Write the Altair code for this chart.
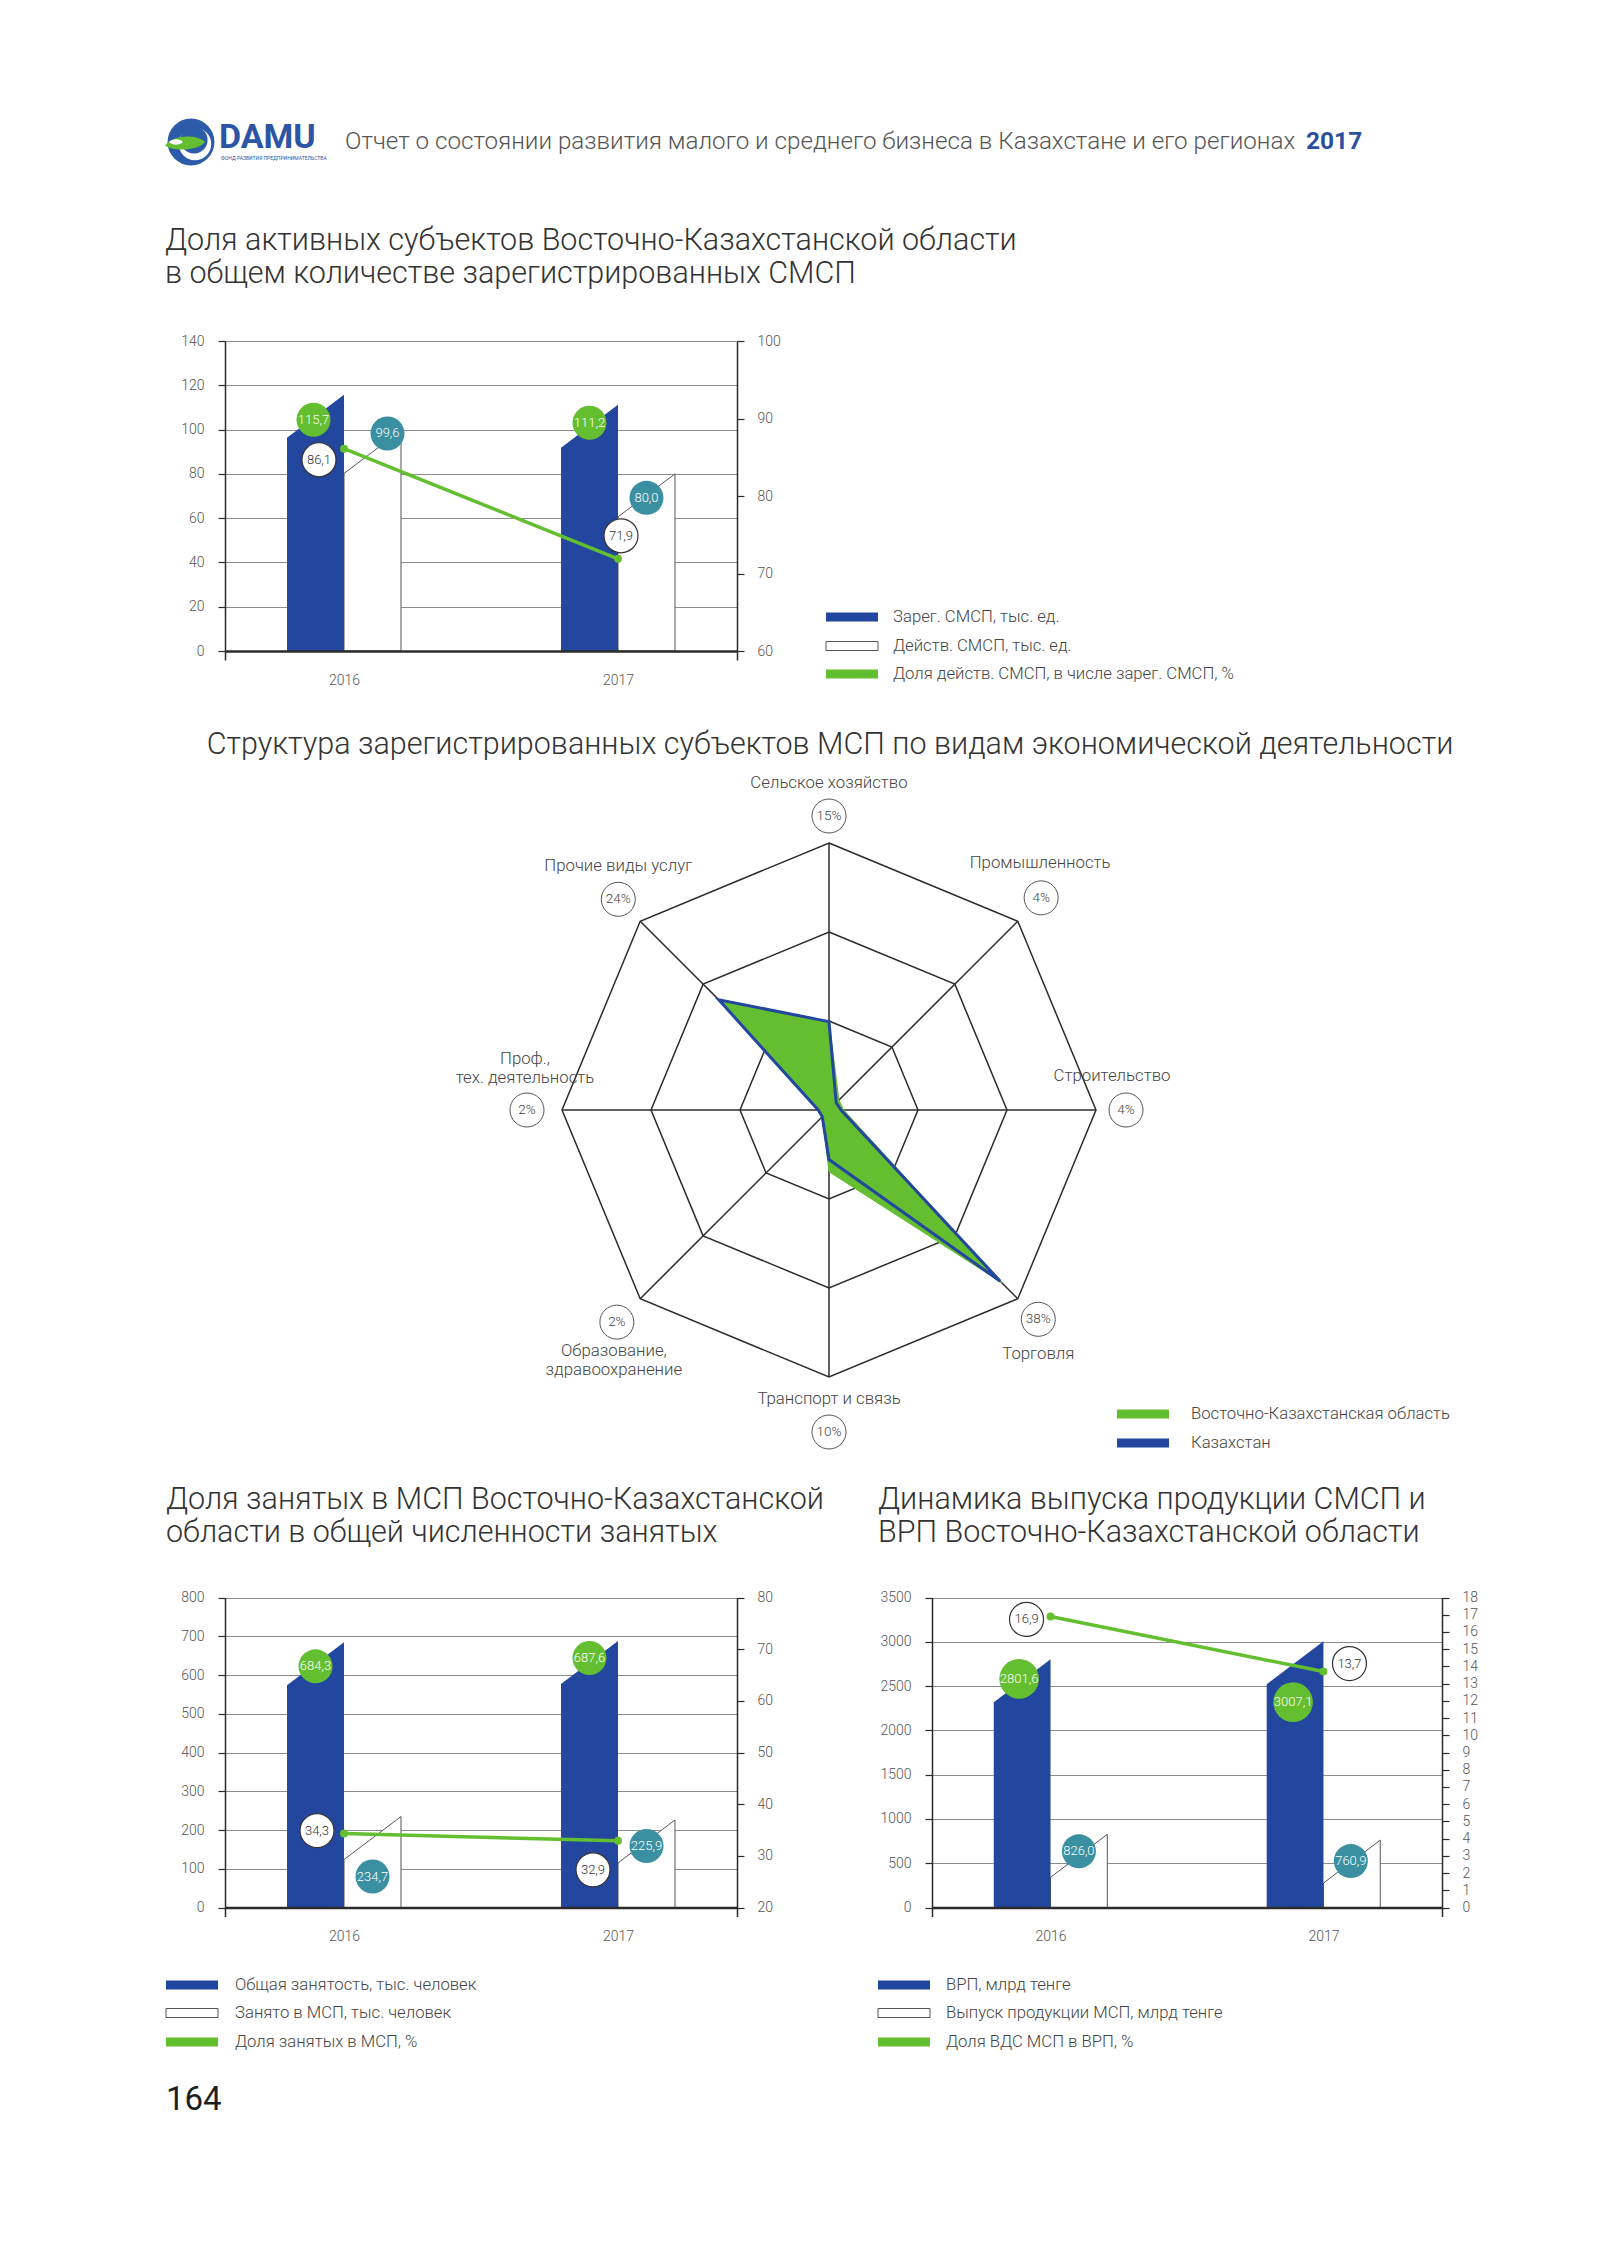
import math
import altair as alt
import pandas as pd

# ---------------- data ----------------
YEARS = ["2016", "2017"]

# Chart 1: active SME share
C1_REG = [115.7, 111.2]      # Зарег. СМСП, тыс. ед.
C1_ACT = [99.6, 80.0]        # Действ. СМСП, тыс. ед.
C1_SHARE = [86.1, 71.9]      # Доля действ. СМСП, %
C1_LEGEND = ["Зарег. СМСП, тыс. ед.", "Действ. СМСП, тыс. ед.",
             "Доля действ. СМСП, в числе зарег. СМСП, %"]

# Chart 3: employment
C3_TOTAL = [684.3, 687.6]
C3_SME = [234.7, 225.9]
C3_SHARE = [34.3, 32.9]
C3_LEGEND = ["Общая занятость, тыс. человек", "Занято в МСП, тыс. человек",
             "Доля занятых в МСП, %"]

# Chart 4: output / GRP
C4_GRP = [2801.6, 3007.1]
C4_SME = [826.0, 760.9]
C4_SHARE = [16.9, 13.7]
C4_LEGEND = ["ВРП, млрд тенге", "Выпуск продукции МСП, млрд тенге",
             "Доля ВДС МСП в ВРП, %"]

# Radar
SECTORS = [["Сельское хозяйство"], ["Промышленность"], ["Строительство"], ["Торговля"],
           ["Транспорт и связь"], ["Образование,", "здравоохранение"],
           ["Проф.,", "тех. деятельность"], ["Прочие виды услуг"]]
SECTOR_PCT = ["15%", "4%", "4%", "38%", "10%", "2%", "2%", "24%"]
RADAR_VKO = [13.9, 2.2, 2.3, 38.4, 9.7, 1.5, 1.8, 24.5]
RADAR_KZ = [13.9, 1.6, 1.9, 38.1, 7.8, 1.5, 1.7, 24.5]
RADAR_LEGEND = ["Восточно-Казахстанская область", "Казахстан"]

HEADER = "Отчет о состоянии развития малого и среднего бизнеса в Казахстане и его регионах"
HEADER_YEAR = "2017"
TITLE1 = ["Доля активных субъектов Восточно-Казахстанской области",
          "в общем количестве зарегистрированных СМСП"]
TITLE2 = "Структура зарегистрированных субъектов МСП по видам экономической деятельности"
TITLE3 = ["Доля занятых в МСП Восточно-Казахстанской", "области в общей численности занятых"]
TITLE4 = ["Динамика выпуска продукции СМСП и", "ВРП Восточно-Казахстанской области"]
PAGE_NO = "164"

# ---------------- style ----------------
PW, PH = 1599, 2229
FONT = "Roboto"
BLUE = "#23479F"
GREEN = "#63BE30"
TEAL = "#3A8FA1"
DARK = "#2B2B2B"
GRID = "#8C8C8C"
AXTXT = "#555555"
TXT = "#3C3C3C"
TITLE_SIZE = 30.5
LEG_SIZE = 16.7

ONE = pd.DataFrame({"k": [0]})
layers = []


def fmt(v):
    return f"{v:.1f}".replace(".", ",")


def text_layer(x, y, s, size, color=TXT, weight=300, align="left", baseline="middle",
               line_height=None):
    kw = dict(text=s, fontSize=size, color=color, fontWeight=weight, align=align,
              baseline=baseline, font=FONT)
    if line_height:
        kw["lineHeight"] = line_height
    return alt.Chart(ONE).mark_text(**kw).encode(x=alt.value(x), y=alt.value(y))


def rect_layer(x0, x1, y0, y1, fill, stroke=None):
    kw = dict(fill=fill)
    if stroke:
        kw.update(stroke=stroke, strokeWidth=1)
    return alt.Chart(ONE).mark_rect(**kw).encode(
        x=alt.value(x0), x2=alt.value(x1), y=alt.value(y0), y2=alt.value(y1))


def symbol_layer(x, y, size, fill, shape="circle"):
    return alt.Chart(ONE).mark_point(fill=fill, size=size, shape=shape, filled=True,
                                     opacity=1, strokeWidth=0).encode(
        x=alt.value(x), y=alt.value(y))


def legend(x_sw, x_txt, ys, labels, kinds):
    out = []
    for y, lab, kind in zip(ys, labels, kinds):
        if kind == "white":
            out.append(rect_layer(x_sw, x_sw + 52, y - 4.5, y + 4.5, "white", "#555555"))
        else:
            out.append(rect_layer(x_sw, x_sw + 52, y - 4.5, y + 4.5, kind))
        out.append(text_layer(x_txt, y, lab, LEG_SIZE, color="#444444"))
    return out


# ---------------- bar/line panels ----------------
D = 0.4343          # outer padding of the year axis (in category units)
BW = 0.208          # bar width (in category units)
SLANT_PX = 43


def panel(px0, px1, py0, py1, lmax, lstep, rmin, rmax, rstep, big, small, share, offs):
    xs = alt.Scale(domain=[-D, 1 + D], range=[px0, px1], nice=False, zero=False)
    yl = alt.Scale(domain=[0, lmax], range=[py1, py0], nice=False, zero=False)
    yr = alt.Scale(domain=[rmin, rmax], range=[py1, py0], nice=False, zero=False)
    ux = (1 + 2 * D) / (px1 - px0)
    ul = lmax / (py1 - py0)
    ur = (rmax - rmin) / (py1 - py0)
    sl = SLANT_PX * ul
    lab = dict(labelFont=FONT, labelFontSize=14, labelFontWeight=300, labelColor=AXTXT,
               title=None, labelOverlap=False)

    ax_left = alt.Axis(orient="left", offset=-px0, values=list(range(0, lmax + 1, lstep)),
                       format="d", grid=True, gridColor=GRID, gridWidth=1, domainColor=DARK,
                       domainWidth=1.5, tickColor=DARK, tickWidth=1.2, tickSize=7,
                       labelPadding=14, **lab)
    ax_bottom = alt.Axis(orient="bottom", offset=py1 - PH, values=[0, 1],
                         labelExpr=f"datum.value < 0.5 ? '{YEARS[0]}' : '{YEARS[1]}'",
                         ticks=False, domainColor=DARK, domainWidth=2.5, labelPadding=22,
                         grid=False, zindex=1, labelFlush=False, **lab)
    ax_ends = alt.Axis(orient="bottom", offset=py1 - PH, values=[-D, 1 + D], labels=False,
                       domain=False, ticks=True, tickSize=9, tickColor=DARK, tickWidth=1.5,
                       grid=False, title=None)
    ax_right = alt.Axis(orient="right", offset=px1 - PW, values=list(range(rmin, rmax + 1, rstep)),
                        format="d", grid=False, domainColor=DARK, domainWidth=1.5,
                        tickColor=DARK, tickWidth=1.2, tickSize=7, labelPadding=13, **lab)

    blue_rows, white_rows = [], []
    for i in range(2):
        blue_rows += [dict(bar=i, x=i - BW, top=big[i] - sl, base=0),
                      dict(bar=i, x=i, top=big[i], base=0)]
        white_rows += [dict(bar=i, x=i, top=small[i] - sl, base=0),
                       dict(bar=i, x=i + BW, top=small[i], base=0)]

    out = []
    out.append(alt.Chart(pd.DataFrame(white_rows)).mark_area(
        fill="white", stroke="#555555", strokeWidth=1, interpolate="linear").encode(
        x=alt.X("x:Q", scale=xs, axis=ax_bottom),
        y=alt.Y("top:Q", scale=yl, axis=ax_left),
        y2="base:Q", detail="bar:N"))
    out.append(alt.Chart(pd.DataFrame(blue_rows)).mark_area(
        fill=BLUE, interpolate="linear").encode(
        x=alt.X("x:Q", scale=xs, axis=ax_ends),
        y=alt.Y("top:Q", scale=yl, axis=None),
        y2="base:Q", detail="bar:N"))

    line_df = pd.DataFrame({"x": [0, 1], "v": share})
    out.append(alt.Chart(line_df).mark_line(color=GREEN, strokeWidth=3.5).encode(
        x=alt.X("x:Q", scale=xs, axis=None),
        y=alt.Y("v:Q", scale=yr, axis=ax_right)))
    out.append(alt.Chart(line_df).mark_circle(color=GREEN, size=64, opacity=1).encode(
        x=alt.X("x:Q", scale=xs, axis=None),
        y=alt.Y("v:Q", scale=yr, axis=None)))

    def labels(vals, anchor_dx, offsets, fill, txtcol, stroke, yscale, u):
        rows = []
        for i, v in enumerate(vals):
            t = fmt(v)
            d = max(34.0, 6.6 * len(t))
            rows.append(dict(x=i + anchor_dx + offsets[i][0] * ux,
                             y=v - offsets[i][1] * u, t=t, s=d * d))
        df = pd.DataFrame(rows)
        ck = dict(fill=fill, opacity=1, filled=True)
        if stroke:
            ck.update(stroke=stroke, strokeWidth=1.2)
        else:
            ck.update(strokeWidth=0)
        c = alt.Chart(df).mark_circle(**ck).encode(
            x=alt.X("x:Q", scale=xs, axis=None), y=alt.Y("y:Q", scale=yscale, axis=None),
            size=alt.Size("s:Q", scale=None, legend=None))
        t = alt.Chart(df).mark_text(font=FONT, fontSize=13, fontWeight=300, color=txtcol,
                                    align="center", baseline="middle").encode(
            x=alt.X("x:Q", scale=xs, axis=None), y=alt.Y("y:Q", scale=yscale, axis=None),
            text="t:N")
        return [c, t]

    out += labels(big, -BW / 2, offs[0], GREEN, "white", None, yl, ul)
    out += labels(small, BW / 2, offs[1], TEAL, "white", None, yl, ul)
    out += labels(share, 0, offs[2], "white", "#333333", "#333333", yr, ur)
    return out


# chart coordinates = page coordinates - 8
layers += panel(217, 729, 333, 643, 140, 20, 60, 100, 10, C1_REG, C1_ACT, C1_SHARE,
                [[(-2, 25), (0, 18)], [(15, 3), (0, 24)], [(-25, 11), (3, -23)]])
layers += panel(217, 729, 1589.5, 1899.5, 800, 100, 20, 80, 10, C3_TOTAL, C3_SME, C3_SHARE,
                [[(0, 24), (0, 17)], [(0, 60), (0, 26)], [(-27, -3), (-25, 29)]])
layers += panel(924, 1434, 1589.5, 1899.5, 3500, 500, 0, 18, 1, C4_GRP, C4_SME, C4_SHARE,
                [[(-3, 19.5), (-2, 61)], [(0, 17), (-1, 21)], [(-24, 3), (26, -8)]])

# ---------------- radar ----------------
RM = 42.0
RPX = 267.0
RCX, RCY = 821.0, 1102.0
rxs = alt.Scale(domain=[-RM, RM], range=[RCX - RPX, RCX + RPX], nice=False, zero=False)
rys = alt.Scale(domain=[-RM, RM], range=[RCY + RPX, RCY - RPX], nice=False, zero=False)
UPX = RM / RPX


def polar(r, i):
    th = i * math.pi / 4
    return r * math.sin(th), r * math.cos(th)


ring_rows = []
for k in (1, 2, 3):
    for i in range(8):
        x, y = polar(RM * k / 3, i)
        ring_rows.append(dict(ring=k, i=i, x=x, y=y))
layers.append(alt.Chart(pd.DataFrame(ring_rows)).mark_line(
    interpolate="linear-closed", color=DARK, strokeWidth=1.5).encode(
    x=alt.X("x:Q", scale=rxs, axis=None), y=alt.Y("y:Q", scale=rys, axis=None),
    detail="ring:N", order="i:Q"))

spoke_rows = []
for i in range(8):
    x, y = polar(RM, i)
    spoke_rows.append(dict(x=0.0, y=0.0, x2=x, y2=y))
layers.append(alt.Chart(pd.DataFrame(spoke_rows)).mark_rule(color=DARK, strokeWidth=1.5).encode(
    x=alt.X("x:Q", scale=rxs, axis=None), y=alt.Y("y:Q", scale=rys, axis=None),
    x2="x2:Q", y2="y2:Q"))


def poly_df(vals):
    rows = []
    for i, v in enumerate(vals):
        x, y = polar(v, i)
        rows.append(dict(i=i, x=x, y=y))
    return pd.DataFrame(rows)


layers.append(alt.Chart(poly_df(RADAR_VKO)).mark_line(
    interpolate="linear-closed", fill=GREEN, stroke=GREEN, strokeWidth=1).encode(
    x=alt.X("x:Q", scale=rxs, axis=None), y=alt.Y("y:Q", scale=rys, axis=None), order="i:Q"))
layers.append(alt.Chart(poly_df(RADAR_KZ)).mark_line(
    interpolate="linear-closed", stroke=BLUE, strokeWidth=3).encode(
    x=alt.X("x:Q", scale=rxs, axis=None), y=alt.Y("y:Q", scale=rys, axis=None), order="i:Q"))

LABEL_R_PX = [294, 300, 297, 296, 322, 300, 302, 298]
NAME_OFF = [(0, -33), (-1, -35), (-14, -34), (0, 35), (0, -33), (-3, 29), (-2, -51), (0, -33)]
pc_rows = []
for i in range(8):
    cx, cy = polar(LABEL_R_PX[i] * UPX, i)
    pc_rows.append(dict(x=cx, y=cy, t=SECTOR_PCT[i]))
    nx = cx + NAME_OFF[i][0] * UPX
    ny = cy - NAME_OFF[i][1] * UPX
    layers.append(alt.Chart(pd.DataFrame({"x": [nx], "y": [ny]})).mark_text(
        text=SECTORS[i], font=FONT, fontSize=16.8, fontWeight=300, color="#444444",
        align="center", baseline="middle", lineHeight=19).encode(
        x=alt.X("x:Q", scale=rxs, axis=None), y=alt.Y("y:Q", scale=rys, axis=None)))
pc_df = pd.DataFrame(pc_rows)
layers.append(alt.Chart(pc_df).mark_circle(size=34 * 34, fill="white", stroke="#555555",
                                           strokeWidth=1, opacity=1).encode(
    x=alt.X("x:Q", scale=rxs, axis=None), y=alt.Y("y:Q", scale=rys, axis=None)))
layers.append(alt.Chart(pc_df).mark_text(font=FONT, fontSize=13.5, fontWeight=300, color="#444444",
                                         align="center", baseline="middle").encode(
    x=alt.X("x:Q", scale=rxs, axis=None), y=alt.Y("y:Q", scale=rys, axis=None), text="t:N"))

# ---------------- static text, logo, legends ----------------
layers.append(symbol_layer(183, 134, 2200, "#2C5BA9"))
layers.append(symbol_layer(187, 136, 1050, "white"))
layers.append(symbol_layer(186, 132, 740, "#2C5BA9"))
layers.append(symbol_layer(177, 135, 1600, GREEN,
                           shape="M-1,0.12 C-0.6,-0.42 0.6,-0.45 1,-0.05 C0.6,0.42 -0.6,0.42 -1,0.12 Z"))
layers.append(symbol_layer(168, 134, 200, "white",
                           shape="M-1,0 C-0.5,-0.5 0.5,-0.5 1,0 C0.5,0.5 -0.5,0.5 -1,0 Z"))
layers.append(text_layer(211, 130, "DAMU", 34, color="#2C55A6", weight=700))
layers.append(text_layer(213, 150, "ФОНД РАЗВИТИЯ ПРЕДПРИНИМАТЕЛЬСТВА", 5, color="#2C55A6", weight=400))

layers.append(text_layer(337, 134, HEADER, 24.2, color="#555555"))
layers.append(text_layer(1298, 134, HEADER_YEAR, 24.5, color="#2B4FA0", weight=700))

layers.append(text_layer(157, 232.5, TITLE1, TITLE_SIZE, color="#333333", line_height=33))
layers.append(text_layer(822, 737, TITLE2, TITLE_SIZE, color="#333333", align="center"))
layers.append(text_layer(158, 1492, TITLE3, TITLE_SIZE, color="#333333", line_height=33))
layers.append(text_layer(870, 1492, TITLE4, TITLE_SIZE, color="#333333", line_height=33))
layers.append(text_layer(158, 2092, PAGE_NO, 33, color="#1E1E1E", weight=400))

layers += legend(818, 885, [609, 638, 666], C1_LEGEND, [BLUE, "white", GREEN])
layers += legend(1109, 1183, [1406, 1435], RADAR_LEGEND, [GREEN, BLUE])
layers += legend(158, 227, [1977, 2005, 2034], C3_LEGEND, [BLUE, "white", GREEN])
layers += legend(870, 938, [1977, 2005, 2034], C4_LEGEND, [BLUE, "white", GREEN])

chart = alt.layer(*layers).resolve_scale(x="independent", y="independent").properties(
    width=PW, height=PH, padding=0, autosize=alt.AutoSizeParams(type="none"),
    background="white").configure_view(stroke=None)

chart.save("out.html", embed_options={"renderer": "svg", "actions": False})
